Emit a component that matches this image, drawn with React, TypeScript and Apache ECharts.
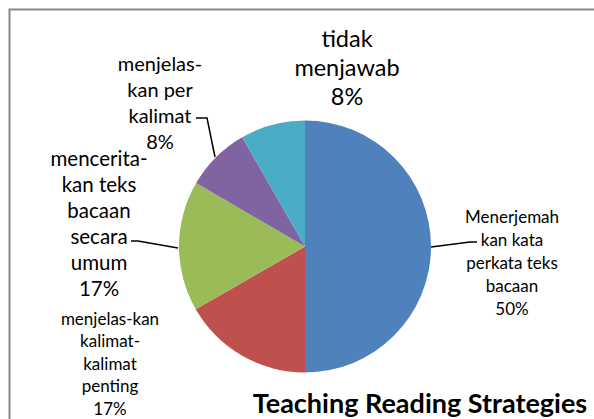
import React, { useEffect, useRef } from "react";
import * as echarts from "echarts";

const categories = [
  "Menerjemah\nkan kata\nperkata teks\nbacaan",
  "menjelas-kan\nkalimat-\nkalimat\npenting",
  "mencerita-\nkan teks\nbacaan\nsecara\numum",
  "menjelas-\nkan per\nkalimat",
  "tidak\nmenjawab",
];
const values = [50, 16.7, 16.7, 8.3, 8.3];
const percentLabels = ["50%", "17%", "17%", "8%", "8%"];
const colors = ["#4F81BD", "#C0504D", "#9BBB59", "#8064A2", "#4BACC6"];

// label layout (positions / sizes)
const labelPos = [
  { x: 512, y: 262, fs: 17, lh: 23 },
  { x: 110, y: 363, fs: 17, lh: 22.5 },
  { x: 99, y: 223, fs: 20.5, lh: 26 },
  { x: 160, y: 102, fs: 20, lh: 26 },
  { x: 347, y: 67, fs: 23.5, lh: 29 },
];
const linePts: (number[][] | null)[] = [
  [[431, 247], [470, 242], [477, 242]],
  null,
  [[178, 248], [138, 241], [131, 241]],
  [[215, 157], [207, 118], [196, 118]],
  null,
];

const FONT = "Lato";

export default function App() {
  const ref = useRef<HTMLDivElement>(null);
  useEffect(() => {
    document.body.style.margin = "0";
    const chart = echarts.init(ref.current!, null, { renderer: "svg" });
    chart.setOption({
      animation: false,
      backgroundColor: "#ffffff",
      title: {
        text: "Teaching Reading Strategies",
        left: 415,
        top: 384,
        textAlign: "center",
        textStyle: { fontFamily: FONT, fontSize: 27, fontWeight: "bold", color: "#000" },
      },
      graphic: [
        {
          type: "rect",
          shape: { x: 9.5, y: 9.5, width: 620, height: 440 },
          style: { fill: "none", stroke: "#888888", lineWidth: 2 },
          silent: true,
        },
      ],
      series: [
        {
          type: "pie",
          center: [305, 246.5],
          radius: [0, 126],
          startAngle: 90,
          clockwise: true,
          data: values.map((v, i) => ({
            value: v,
            name: categories[i],
            itemStyle: { color: colors[i] },
            label: { fontSize: labelPos[i].fs, lineHeight: labelPos[i].lh },
            labelLine: { show: linePts[i] !== null },
          })),
          label: {
            show: true,
            position: "outside",
            fontFamily: FONT,
            color: "#000",
            align: "center",
            formatter: (p: any) => categories[p.dataIndex] + "\n" + percentLabels[p.dataIndex],
          },
          labelLine: {
            show: true,
            length: 10,
            length2: 10,
            lineStyle: { color: "#000", width: 1.5 },
          },
          labelLayout: (p: any) => {
            const i = p.dataIndex;
            const res: any = {
              x: labelPos[i].x,
              y: labelPos[i].y,
              align: "center",
              verticalAlign: "middle",
            };
            if (linePts[i]) res.labelLinePoints = linePts[i];
            return res;
          },
        },
      ],
    });
    return () => chart.dispose();
  }, []);
  return <div ref={ref} style={{ width: 594, height: 419 }} />;
}
